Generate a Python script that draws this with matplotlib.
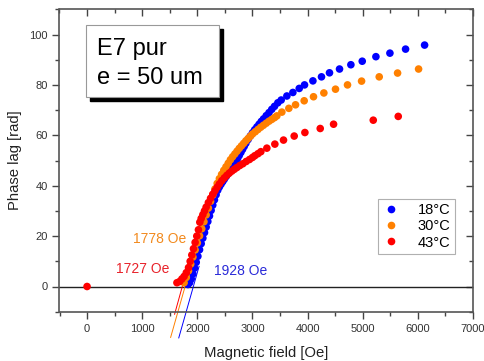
import matplotlib
matplotlib.use("Agg")
import matplotlib.pyplot as plt
from matplotlib.patches import Rectangle
from matplotlib.lines import Line2D
from matplotlib.ticker import MultipleLocator

plt.rcParams['font.family'] = ['Liberation Sans', 'DejaVu Sans']

# ---------------- data ----------------
labels = ["18°C", "30°C", "43°C"]
colors = ["#0000FF", "#FF8000", "#FF0000"]

x18 = [1830, 1860, 1890, 1920, 1950, 1980, 2010, 2040, 2070, 2100, 2130, 2160, 2190,
       2220, 2250, 2280, 2310, 2340, 2370, 2400, 2430, 2460, 2490, 2520, 2550, 2580,
       2610, 2640, 2670, 2700, 2730, 2760, 2790, 2820, 2850, 2880, 2920, 2960, 3000,
       3040, 3080, 3120, 3160, 3200, 3250, 3300, 3350, 3400, 3460,
       3521, 3624, 3733, 3848, 3944, 4096, 4252, 4397, 4579, 4785, 4991, 5239, 5493,
       5777, 6122]
y18 = [0.8, 1.5, 3.0, 5.0, 7.3, 9.6, 12.0, 14.6, 17.0, 19.2, 21.4, 23.6, 25.8,
       28.0, 30.2, 32.3, 34.4, 36.4, 38.2, 39.5, 40.6, 41.6, 42.6, 43.6, 44.6, 45.6,
       46.6, 47.6, 48.6, 49.7, 50.8, 52.0, 53.2, 54.4, 55.6, 56.8, 58.3, 59.7, 61.0,
       62.2, 63.3, 64.4, 65.5, 66.5, 67.8, 69.0, 70.3, 71.5, 72.9,
       74.0, 75.6, 77.0, 78.6, 80.0, 81.6, 83.2, 84.8, 86.3, 88.0, 89.4, 91.2, 92.6,
       94.2, 95.8]

x30 = [1760, 1800, 1840, 1880, 1920, 1960, 2000, 2040, 2080, 2120, 2160, 2200, 2240,
       2280, 2320, 2360, 2400, 2440, 2480, 2520, 2560, 2600, 2640, 2680, 2720, 2760,
       2800, 2840, 2880, 2920, 2960, 3000, 3050, 3100, 3150, 3200, 3250, 3300, 3350,
       3400, 3442,
       3533, 3660, 3781, 3938, 4107, 4295, 4506, 4724, 4979, 5299, 5632, 6013]
y30 = [1.5, 3.6, 6.2, 8.9, 11.7, 14.5, 17.3, 20.1, 22.9, 25.7, 28.4, 31.1, 33.8,
       36.3, 38.7, 40.9, 42.8, 44.5, 46.1, 47.5, 48.9, 50.3, 51.5, 52.6, 53.7, 54.8,
       55.8, 56.8, 57.8, 58.7, 59.6, 60.5, 61.4, 62.3, 63.2, 64.0, 64.8, 65.6, 66.3,
       67.0, 67.7,
       69.2, 70.7, 72.1, 73.7, 75.3, 76.8, 78.3, 80.0, 81.5, 83.2, 84.7, 86.3]

x43 = [0, 1630, 1680, 1720, 1760, 1800, 1840, 1870, 1900, 1930, 1960, 1990, 2020,
       2045, 2070, 2100, 2130, 2160, 2200, 2240, 2280, 2320, 2360, 2400, 2444,
       2490, 2535, 2580, 2626, 2670, 2717, 2770, 2825, 2885, 2946, 3000, 3043, 3100,
       3152, 3261, 3406, 3563, 3757, 3951, 4229, 4471, 5191, 5644]
y43 = [0.0, 1.5, 2.0, 3.0, 4.0, 5.5, 7.5, 10.0, 12.5, 15.0, 17.5, 20.0, 22.5,
       25.5, 27.0, 28.5, 30.0, 31.5, 33.3, 35.0, 36.6, 38.0, 39.4, 40.7, 42.0,
       43.1, 44.1, 45.0, 45.8, 46.5, 47.2, 48.0, 48.7, 49.6, 50.4, 51.2, 51.9, 52.7,
       53.5, 54.9, 56.5, 58.1, 59.7, 61.1, 62.7, 64.4, 66.0, 67.5]

# linear fits: x-intercepts (Oe) and slope (rad/Oe)
fit_onset = [1928, 1778, 1727]
fit_slope = [0.077, 0.077, 0.079]
fit_ybottom = [-20.4, -20.2, -11.0]
fit_ytop = [8.0, 8.0, 8.0]
fit_labels = ["1928 Oe", "1778 Oe", "1727 Oe"]
fit_label_colors = ["#2A2AD8", "#F28A1E", "#E8222A"]
fit_label_pos = [(2786, 6.2), (1316, 18.8), (1016, 6.9)]

series_x = [x18, x30, x43]
series_y = [y18, y30, y43]

# ---------------- figure ----------------
W, H = 485, 361
fig = plt.figure(figsize=(W / 100, H / 100), dpi=100)
ax = fig.add_axes([59.5 / W, 1 - 311.7 / H, 413.5 / W, 302.4 / H])

ax.set_xlim(-500, 7000)
ax.set_ylim(-10, 110)

ax.axhline(0, color="#222222", lw=1.0, zorder=1)

for fx0, s, yb, yt, c in zip(fit_onset, fit_slope, fit_ybottom, fit_ytop, colors):
    xb = fx0 + yb / s
    xt = fx0 + yt / s
    ax.plot([xb, xt], [yb, yt], color=c, lw=0.7, clip_on=False, zorder=2)

for xs, ys, c, lab in zip(series_x, series_y, colors, labels):
    ax.scatter(xs, ys, s=30, color=c, edgecolors="none", label=lab, zorder=3)

for t, c, (tx, ty) in zip(fit_labels, fit_label_colors, fit_label_pos):
    ax.text(tx, ty, t, color=c, fontsize=10, ha="center", va="center", zorder=5)

# ticks
ax.xaxis.set_major_locator(MultipleLocator(1000))
ax.xaxis.set_minor_locator(MultipleLocator(500))
ax.yaxis.set_major_locator(MultipleLocator(20))
ax.yaxis.set_minor_locator(MultipleLocator(10))
ax.set_yticks([0, 20, 40, 60, 80, 100])
ax.tick_params(axis="both", which="major", length=5, width=1, color="#444444",
               labelsize=8, labelcolor="#333333")
ax.tick_params(axis="both", which="minor", length=3, width=1, color="#444444")
ax.tick_params(axis="x", which="both", direction="out", top=False)
ax.tick_params(axis="y", which="both", direction="out", right=False)
for sp in ax.spines.values():
    sp.set_color("#555555")
    sp.set_linewidth(1.2)

# top / right inward ticks
secx = ax.secondary_xaxis("top")
secx.xaxis.set_major_locator(MultipleLocator(1000))
secx.xaxis.set_minor_locator(MultipleLocator(500))
secx.tick_params(which="major", direction="in", length=5, width=1, color="#444444", labeltop=False)
secx.tick_params(which="minor", direction="in", length=3, width=1, color="#444444")
secx.spines["top"].set_visible(False)
secy = ax.secondary_yaxis("right")
secy.yaxis.set_major_locator(MultipleLocator(20))
secy.yaxis.set_minor_locator(MultipleLocator(10))
secy.tick_params(which="major", direction="in", length=5, width=1, color="#444444", labelright=False)
secy.tick_params(which="minor", direction="in", length=3, width=1, color="#444444")
secy.spines["right"].set_visible(False)

ax.set_xlabel("Magnetic field [Oe]", fontsize=10.7, color="#222222", labelpad=9)
ax.set_ylabel("Phase lag [rad]", fontsize=10.7, color="#222222", labelpad=5)

# legend
handles = [Line2D([], [], ls="none", marker="o", markersize=5.5, color=c,
                  markeredgewidth=0) for c in colors]
leg = ax.legend(handles, labels, loc="lower right", bbox_to_anchor=(0.956, 0.191),
                borderaxespad=0, fontsize=10.5, frameon=True, fancybox=False,
                edgecolor="#b0b0b0", framealpha=1, labelspacing=0.15,
                handletextpad=1.2, handlelength=1.2, borderpad=0.3)
leg.get_frame().set_linewidth(0.8)

# title box with shadow
bx0, bx1, by0, by1 = 86, 219, 25, 97
shadow = Rectangle(((bx0 + 4) / W, 1 - (by1 + 4) / H), (bx1 - bx0) / W, (by1 - by0) / H,
                   transform=fig.transFigure, facecolor="black", edgecolor="black", zorder=10)
box = Rectangle((bx0 / W, 1 - by1 / H), (bx1 - bx0) / W, (by1 - by0) / H,
                transform=fig.transFigure, facecolor="white", edgecolor="#999999",
                lw=0.8, zorder=11)
fig.add_artist(shadow)
fig.add_artist(box)
fig.text(97 / W, 1 - 55 / H, "E7 pur", fontsize=17, color="black", va="baseline",
         ha="left", zorder=12)
fig.text(97 / W, 1 - 84 / H, "e = 50 um", fontsize=17, color="black", va="baseline",
         ha="left", zorder=12)

fig.savefig("out.png", dpi=100)
